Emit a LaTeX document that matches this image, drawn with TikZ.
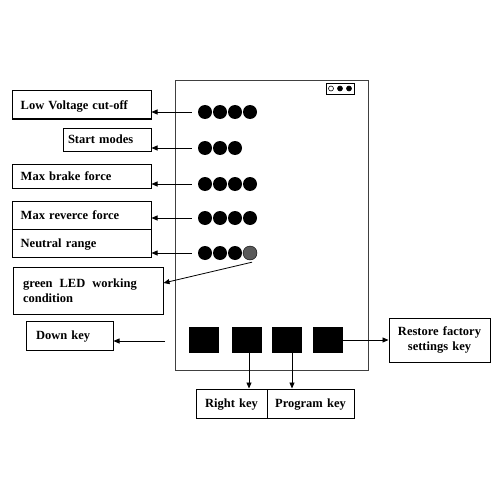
\documentclass[tikz,border=0pt]{standalone}
\usepackage{fontspec}
\setmainfont{Liberation Serif}
\usetikzlibrary{arrows.meta}
\begin{document}
\begin{tikzpicture}[x=1pt,y=-1pt,
  lbl/.style={draw, line width=1pt, font=\fontsize{12.5}{15}\selectfont\bfseries, inner ysep=0pt, anchor=center},
  one/.style={text depth=0pt},
  dotn/.style={circle, fill=black, inner sep=0pt, minimum size=14pt},
  keyn/.style={fill=black, inner sep=0pt, minimum width=30pt, minimum height=26pt},
  arr/.style={-{Triangle[length=6pt,width=5pt]}, line width=0.8pt},
  pin/.style={circle, draw, line width=0.6pt, inner sep=0pt, minimum size=5pt}]
\useasboundingbox (0,0) rectangle (500,500);
% board
\node[draw=black!75, line width=1pt, minimum width=193pt, minimum height=289pt, inner sep=0pt] (board) at (271.5,225.5) {};
\node[draw, line width=0.8pt, minimum width=28pt, minimum height=11pt, inner sep=0pt] (conn) at (340,88.5) {};
\node[pin] (p1) at (331,88.5) {};
\node[pin, fill=black] (p2) at (340,88.5) {};
\node[pin, fill=black] (p3) at (349,88.5) {};
% labels
\node[lbl, one, minimum height=28pt, inner xsep=8.7pt, text width=121.6pt, align=left] (lv) at (81.5,105) {Low Voltage cut-off};
\node[lbl, one, minimum height=23pt, inner xsep=5pt, text width=78pt, align=left] (sm) at (107,139.5) {Start modes};
\node[lbl, one, minimum height=24pt, inner xsep=8.7pt, text width=121.6pt, align=left] (mb) at (81.5,176) {Max brake force};
\node[lbl, one, minimum height=28pt, inner xsep=8.7pt, text width=121.6pt, align=left] (mr) at (81.5,215) {Max reverce force};
\node[lbl, one, minimum height=28pt, inner xsep=8.7pt, text width=121.6pt, align=left] (nr) at (81.5,243) {Neutral range};
\node[lbl, minimum height=47pt, inner xsep=10pt, text width=130pt, align=left] (led) at (88,290.5) {green\hspace{7pt}LED\hspace{7pt}working\\condition};
\node[lbl, one, minimum height=29pt, inner xsep=10pt, text width=67pt, align=left] (dk) at (69.5,335.5) {Down key};
\node[lbl, minimum height=44pt, inner xsep=3pt, text width=95pt, align=center] (rf) at (439.5,340) {Restore factory\\settings key};
\node[lbl, one, minimum height=29pt, inner xsep=3pt, text width=65pt, align=center] (rk) at (231.5,403.5) {Right key};
\node[lbl, one, minimum height=29pt, inner xsep=3pt, text width=81pt, align=center] (pk) at (310.5,403.5) {Program key};
% LEDs
\foreach \r/\y in {1/112,3/184,4/218}{
  \node[dotn] (d\r a) at (205,\y) {};
  \node[dotn] (d\r b) at (220,\y) {};
  \node[dotn] (d\r c) at (235,\y) {};
  \node[dotn] (d\r d) at (250,\y) {};
}
\node[dotn] (d2a) at (205,148) {};
\node[dotn] (d2b) at (220,148) {};
\node[dotn] (d2c) at (235,148) {};
\node[dotn] (d5a) at (205,253) {};
\node[dotn] (d5b) at (220,253) {};
\node[dotn] (d5c) at (235,253) {};
\node[dotn, fill=black!65, draw=black, line width=0.4pt] (d5d) at (250,253) {};
% keys
\node[keyn] (k1) at (203.5,340) {};
\node[keyn] (k2) at (247,340) {};
\node[keyn] (k3) at (287,340) {};
\node[keyn] (k4) at (328,340) {};
% arrows
\draw[arr] ([xshift=-6pt]d1a.west) -- (lv.east |- d1a.west);
\draw[arr] ([xshift=-6pt]d2a.west) -- (sm.east |- d2a.west);
\draw[arr] ([xshift=-6pt]d3a.west) -- (mb.east |- d3a.west);
\draw[arr] ([xshift=-6pt]d4a.west) -- (mr.east |- d4a.west);
\draw[arr] ([xshift=-6pt]d5a.west) -- (nr.east |- d5a.west);
\draw[arr] ([xshift=2pt,yshift=-2pt]d5d.south) -- ([yshift=7.5pt]led.east);
\coordinate (dkc) at (165,341);
\draw[arr] (dkc) -- (dk.east |- dkc);
\draw[arr] ([xshift=2pt]k2.south) -- ([xshift=2pt]k2.south |- rk.north);
\draw[arr] ([xshift=5pt]k3.south) -- ([xshift=5pt]k3.south |- pk.north);
\draw[arr] (k4.east) -- (rf.west |- k4.east);
\end{tikzpicture}
\end{document}
